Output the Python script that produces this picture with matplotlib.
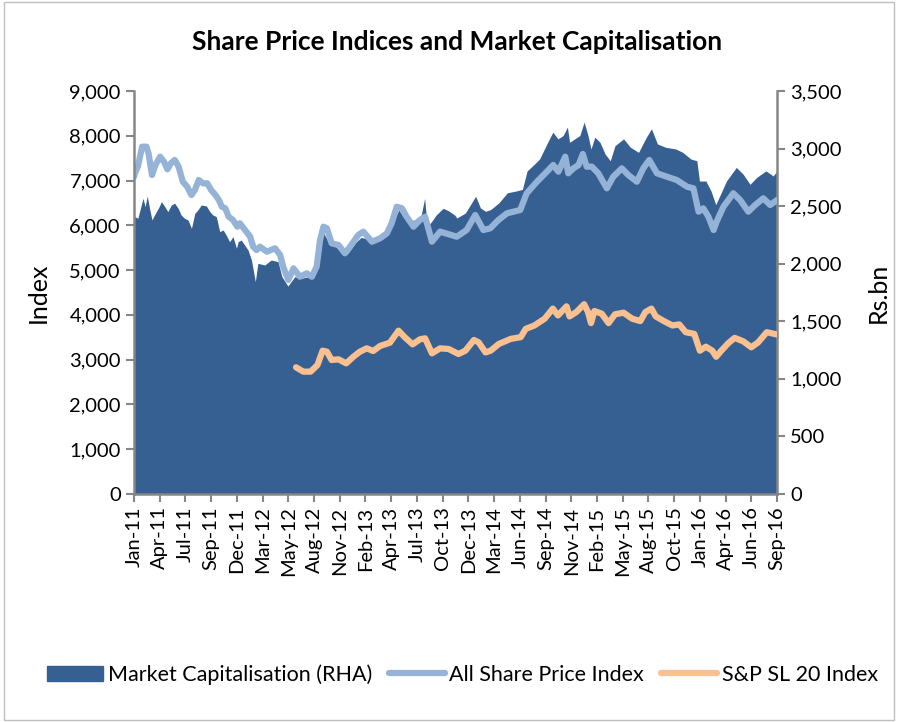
import matplotlib
matplotlib.use("Agg")
import matplotlib.pyplot as plt
from matplotlib.patches import Patch, Rectangle
from matplotlib.lines import Line2D
from matplotlib.ticker import FuncFormatter

plt.rcParams['font.family'] = ['Lato', 'DejaVu Sans']

# trading-session index, one tick label every 60 sessions
tick_labels = ['Jan-11', 'Apr-11', 'Jul-11', 'Sep-11', 'Dec-11', 'Mar-12', 'May-12',
               'Aug-12', 'Nov-12', 'Feb-13', 'Apr-13', 'Jul-13', 'Oct-13', 'Dec-13',
               'Mar-14', 'Jun-14', 'Sep-14', 'Nov-14', 'Feb-15', 'May-15', 'Aug-15',
               'Oct-15', 'Jan-16', 'Apr-16', 'Jun-16', 'Sep-16']

# market capitalisation, Rs.bn
mcap_day = [0, 2, 9, 17, 21, 26, 31, 37, 42, 50, 58, 64, 72, 79, 87, 95, 103, 110, 118,
            126, 134, 142, 149, 157, 169, 177, 184, 192, 200, 208, 215, 223, 231, 239,
            243, 250, 258, 266, 274, 283, 289, 305, 320, 336, 345, 359, 375, 390, 406,
            422, 433, 443, 453, 464, 476, 488, 499, 515, 530, 546, 562, 577, 593, 608,
            618, 628, 639, 655, 670, 678, 684, 694, 705, 721, 733, 748, 753, 773, 785,
            797, 808, 820, 832, 851, 871, 891, 906, 917, 930, 946, 965, 977, 989, 1001,
            1011, 1016, 1028, 1040, 1050, 1059, 1066, 1075, 1087, 1099, 1111, 1122, 1142,
            1158, 1177, 1193, 1207, 1221, 1240, 1264, 1280, 1299, 1313, 1319, 1334, 1346,
            1357, 1366, 1382, 1405, 1421, 1437, 1452, 1474, 1491, 1500]
mcap_val = [2390, 2409, 2394, 2510, 2568, 2495, 2588, 2467, 2380, 2438, 2490, 2539, 2495,
            2452, 2510, 2525, 2481, 2423, 2394, 2380, 2307, 2438, 2467, 2510, 2501, 2452,
            2423, 2409, 2278, 2293, 2249, 2191, 2235, 2134, 2191, 2206, 2163, 2119, 2032,
            1844, 2003, 1989, 2032, 2018, 1887, 1806, 1887, 1873, 1887, 1974, 2148, 2264,
            2191, 2163, 2134, 2119, 2090, 2177, 2229, 2212, 2191, 2241, 2322, 2394, 2467,
            2409, 2365, 2380, 2423, 2568, 2322, 2365, 2423, 2481, 2461, 2423, 2397, 2440,
            2513, 2586, 2485, 2455, 2470, 2528, 2616, 2631, 2645, 2806, 2850, 2909, 3054,
            3142, 3084, 3113, 3186, 3054, 3084, 3113, 3230, 3113, 2996, 3099, 3054, 2952,
            2894, 3025, 3084, 3011, 2967, 3084, 3172, 3040, 3011, 2996, 2967, 2909, 2894,
            2718, 2718, 2631, 2513, 2586, 2718, 2836, 2777, 2689, 2748, 2806, 2762, 2806]

# All Share Price Index
aspi_day = [0, 2, 9, 19, 29, 34, 42, 50, 61, 70, 78, 86, 95, 104, 114, 124, 134, 142, 151,
            161, 171, 180, 190, 198, 205, 213, 221, 231, 241, 247, 259, 271, 278, 286, 294,
            310, 329, 341, 348, 360, 372, 387, 403, 415, 426, 434, 442, 450, 461, 477, 492,
            504, 523, 535, 555, 574, 590, 601, 613, 625, 636, 652, 667, 679, 695, 714, 753,
            776, 796, 815, 831, 850, 870, 901, 916, 940, 963, 978, 990, 1006, 1013, 1025,
            1037, 1047, 1056, 1068, 1083, 1103, 1118, 1138, 1153, 1173, 1188, 1202, 1220,
            1243, 1266, 1290, 1305, 1317, 1328, 1340, 1352, 1359, 1375, 1398, 1414, 1433,
            1449, 1468, 1484, 1500]
aspi_val = [7080, 7161, 7310, 7756, 7756, 7607, 7123, 7347, 7533, 7421, 7250, 7384, 7459,
            7310, 6974, 6862, 6677, 6788, 7012, 6937, 6937, 6788, 6677, 6565, 6415, 6379,
            6192, 6118, 5969, 6045, 5895, 5746, 5522, 5448, 5522, 5411, 5486, 5337, 5075,
            4779, 5040, 4852, 4928, 4852, 5075, 5672, 5969, 5933, 5598, 5560, 5375, 5522,
            5783, 5858, 5634, 5709, 5821, 6045, 6415, 6379, 6192, 5969, 6118, 6192, 5634,
            5858, 5746, 5895, 6230, 5895, 5933, 6118, 6268, 6342, 6715, 6974, 7198, 7347,
            7198, 7533, 7161, 7272, 7347, 7592, 7310, 7310, 7161, 6826, 7086, 7272, 7123,
            6974, 7272, 7459, 7161, 7086, 7012, 6862, 6826, 6305, 6379, 6192, 5895, 6081,
            6415, 6715, 6565, 6305, 6454, 6603, 6454, 6565]

# S&P SL 20 Index (from mid-2012)
spsl_day = [378, 395, 412, 428, 440, 450, 461, 477, 495, 512, 527, 543, 558, 574, 597, 617,
            632, 650, 667, 679, 695, 714, 734, 757, 773, 793, 804, 820, 832, 851, 879, 902,
            914, 934, 958, 977, 989, 1009, 1016, 1032, 1050, 1059, 1066, 1074, 1091, 1107,
            1122, 1142, 1162, 1181, 1193, 1207, 1217, 1236, 1256, 1272, 1287, 1307, 1320,
            1334, 1349, 1358, 1370, 1386, 1401, 1421, 1440, 1456, 1476, 1500]
spsl_val = [2829, 2732, 2732, 2881, 3200, 3178, 2992, 3007, 2918, 3066, 3178, 3252, 3193,
            3305, 3379, 3647, 3498, 3342, 3454, 3476, 3141, 3252, 3238, 3126, 3200, 3439,
            3387, 3162, 3200, 3350, 3464, 3502, 3689, 3763, 3915, 4140, 3988, 4191, 3966,
            4064, 4238, 4064, 3816, 4086, 4026, 3816, 4013, 4049, 3915, 3861, 4064, 4140,
            3966, 3861, 3763, 3787, 3613, 3575, 3200, 3289, 3200, 3064, 3200, 3365, 3486,
            3410, 3276, 3387, 3613, 3562]

area_col = '#376092'
aspi_col = '#95B3D7'
spsl_col = '#FAC090'
axis_col = '#868686'

fig = plt.figure(figsize=(8.98, 7.22), dpi=100)
fig.patches.append(Rectangle((0.004, 0.003), 0.992, 0.994, transform=fig.transFigure,
                             fill=False, ec='#BFBFBF', lw=1))

ax = fig.add_axes([0.1492, 0.3158, 0.7161, 0.5582])
ax2 = ax.twinx()

# market cap on the right axis, drawn underneath the index lines
ax2.fill_between(mcap_day, mcap_val, 0, color=area_col, lw=0)
ax2.set_ylim(0, 3500)
ax2.set_yticks(range(0, 3501, 500))
ax.set_zorder(ax2.get_zorder() + 1)
ax.patch.set_visible(False)

ax.plot(aspi_day, aspi_val, color=aspi_col, lw=4.5, solid_capstyle='round')
ax.plot(spsl_day, spsl_val, color=spsl_col, lw=4.5, solid_capstyle='round')
ax.set_ylim(0, 9000)
ax.set_yticks(range(0, 9001, 1000))
ax.set_xlim(0, 1500)
ax.set_xticks(range(0, 1501, 60))
ax.set_xticklabels(tick_labels, rotation=90)

fmt = FuncFormatter(lambda v, p: f'{int(v):,}')
ax.yaxis.set_major_formatter(fmt)
ax2.yaxis.set_major_formatter(fmt)

for a in (ax, ax2):
    for s in a.spines.values():
        s.set_visible(False)
    a.tick_params(colors=axis_col, labelcolor='black', labelsize=14.5, length=6, width=1.5)
ax.spines['left'].set_visible(True)
ax.spines['bottom'].set_visible(True)
ax2.spines['right'].set_visible(True)
for s in (ax.spines['left'], ax.spines['bottom'], ax2.spines['right']):
    s.set_color(axis_col)
    s.set_linewidth(1.8)
ax.tick_params(axis='x', length=6, pad=3)

ax.set_ylabel('Index', fontsize=18, labelpad=14)
ax2.set_ylabel('Rs.bn', fontsize=18, labelpad=18)

fig.suptitle('Share Price Indices and Market Capitalisation', x=0.509, y=0.958,
             fontsize=19, fontweight='bold')

handles = [Patch(color=area_col),
           Line2D([], [], color=aspi_col, lw=4.5, solid_capstyle='round'),
           Line2D([], [], color=spsl_col, lw=4.5, solid_capstyle='round')]
labels = ['Market Capitalisation (RHA)', 'All Share Price Index', 'S&P SL 20 Index']
fig.legend(handles, labels, loc='center', bbox_to_anchor=(0.515, 0.066), ncol=3,
           frameon=False, fontsize=15.5, handlelength=2.6, handletextpad=0.2,
           columnspacing=0.8)

fig.savefig('out.png', dpi=100)
plt.close(fig)
